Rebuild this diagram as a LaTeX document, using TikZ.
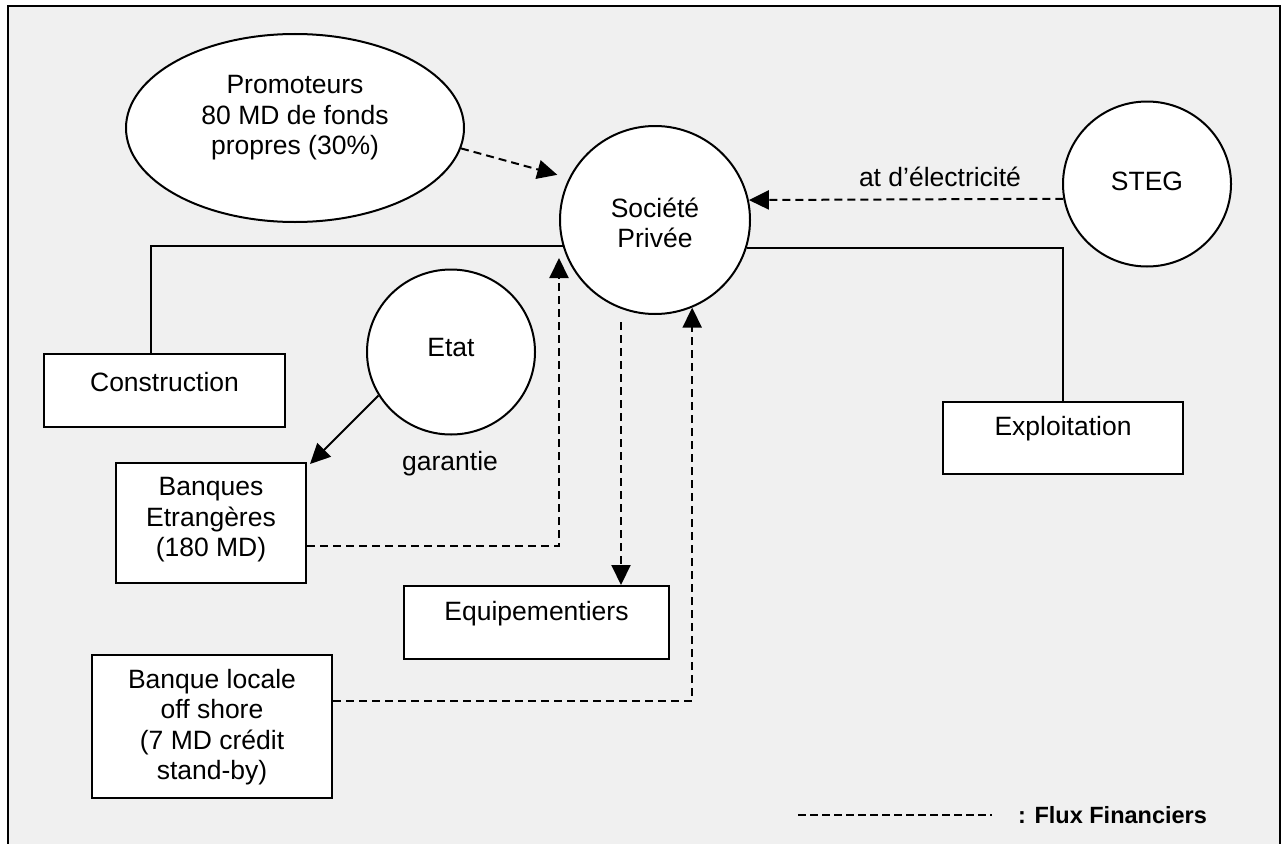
\documentclass[tikz,border=0pt]{standalone}
\usepackage{fontspec}
\setmainfont{Liberation Sans}
\usetikzlibrary{arrows.meta,shapes.geometric}
\definecolor{paper}{HTML}{F0F0F0}
\begin{document}
\begin{tikzpicture}[x=1pt,y=-1pt,
  line width=2pt,
  shapebox/.style={draw=black, fill=white, rectangle, inner sep=0pt},
  roundbox/.style={draw=black, fill=white, ellipse, inner sep=0pt},
  txt/.style={inner sep=0pt, align=center, font=\fontsize{26.5}{30.5}\selectfont},
  tip/.style={-{Triangle[length=20pt,width=19pt]}},
  flux/.style={dash pattern=on 8pt off 5pt},
  link/.style={line width=2pt}]

  % page and frame
  \useasboundingbox (0,0) rectangle (1281,843);
  \fill[white] (0,0) rectangle (1281,843);
  \draw[fill=paper] (7.5,6.5) rectangle (1279.5,870);

  % actors
  \node[roundbox, minimum width=338pt, minimum height=188pt] (prom) at (295,128) {};
  \node[txt] (promT) at (295,118) {Promoteurs\\80 MD de fonds\\propres (30\%)};

  \node[roundbox, minimum width=190pt, minimum height=188pt] (soc) at (655,220) {};
  \node[txt] (socT) at (655,223) {Société\\Privée};

  \node[roundbox, minimum width=168pt, minimum height=165pt] (steg) at (1147,184) {};
  \node[txt] (stegT) at (1147,181) {STEG};

  \node[roundbox, minimum width=168pt, minimum height=165pt] (etat) at (451,352) {};
  \node[txt] (etatT) at (451,348) {Etat};

  % boxes
  \node[shapebox, minimum width=241pt, minimum height=73pt] (constr) at (164.5,390.5) {};
  \node[txt] (constrT) at (164.5,382) {Construction};

  \node[shapebox, minimum width=240pt, minimum height=72pt] (expl) at (1063,438) {};
  \node[txt] (explT) at (1063,429) {Exploitation};

  \node[shapebox, minimum width=190pt, minimum height=120pt] (banq) at (211,523) {};
  \node[txt] (banqT) at (211,520) {Banques\\Etrangères\\(180 MD)};

  \node[shapebox, minimum width=265pt, minimum height=73pt] (equip) at (536.5,622.5) {};
  \node[txt] (equipT) at (536.5,614) {Equipementiers};

  \node[shapebox, minimum width=240pt, minimum height=143pt] (bloc) at (212,726.5) {};
  \node[txt] (blocT) at (212,727) {Banque locale\\off shore\\(7 MD crédit\\stand-by)};

  % labels
  \node[txt] (elec) at (940,177) {at d’électricité};
  \node[txt] (gar) at (450,464) {garantie};

  % solid links
  \draw[link] (soc.196.5) -| ([xshift=-13.5pt]constr.north);
  \draw[link] (soc.343.5) -| (expl.north);
  \draw[link, tip] (etat.211) -- ([xshift=3pt,yshift=-2pt]banq.north east);

  % financial flows
  \coordinate (socSW) at (559,258);
  \coordinate (socS) at (621,322);
  \draw[flux, tip, shorten >=12pt] (prom.-7.5) -- (soc.154);
  \draw[flux, tip] (steg.190.3) -- (soc.12.8);
  \draw[flux, tip] ([yshift=-23pt]banq.east) -| (socSW);
  \draw[flux, tip] (socS) -- (socS |- equip.north);
  \draw[flux, tip] ([yshift=25.5pt]bloc.east) -| (soc.-67);

  % legend
  \coordinate (legA) at (798,815);
  \coordinate (legB) at (992,815);
  \draw[dash pattern=on 8pt off 4pt] (legA) -- (legB);
  \node[anchor=west, inner sep=0pt, font=\fontsize{23.5}{27}\selectfont\bfseries] (legT) at (1017,815) {: Flux Financiers};
\end{tikzpicture}
\end{document}
